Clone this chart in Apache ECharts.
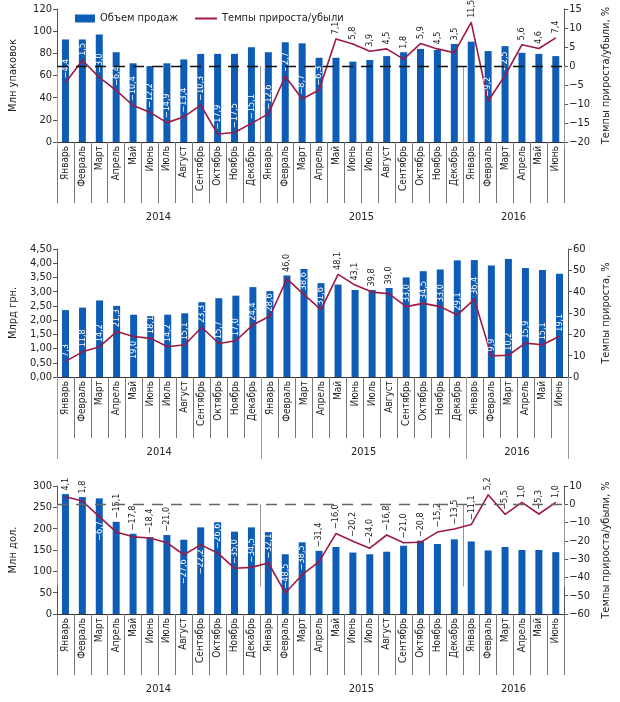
<!DOCTYPE html>
<html><head><meta charset="utf-8">
<script src="https://cdn.jsdelivr.net/npm/echarts@6/dist/echarts.min.js"></script>
<style>html,body{margin:0;padding:0;background:#fff}#c{width:620px;height:702px}</style>
</head><body><div id="c"></div>
<script>
const monthNames = ['Январь','Февраль','Март','Апрель','Май','Июнь','Июль','Август','Сентябрь','Октябрь','Ноябрь','Декабрь'];
const years = ['2014','2015','2016'];
const monthsPerYear = [12, 12, 6];
const categories = [].concat(monthNames, monthNames, monthNames.slice(0, 6));

const seriesNames = ['Объем продаж', 'Темпы прироста/убыли'];

const salesPacks = [92.5,92.5,97.0,81.0,71.0,68.5,71.0,74.5,79.5,79.5,79.5,85.5,81.0,90.0,89.0,76.0,76.0,72.5,74.0,77.5,81.0,84.0,83.0,88.5,90.5,82.0,86.5,80.5,79.5,77.5];
const growthPacks = [-4.4,1.5,-3.0,-6.4,-10.4,-12.2,-14.9,-13.4,-10.3,-17.9,-17.5,-15.1,-12.6,-2.7,-8.7,-6.3,7.1,5.8,3.9,4.5,1.8,5.9,4.5,3.5,11.5,-9.2,-2.5,5.6,4.6,7.4];

const salesUah = [2.35,2.44,2.69,2.50,2.19,2.14,2.19,2.24,2.63,2.77,2.86,3.16,3.02,3.57,3.80,3.30,3.25,3.06,3.06,3.13,3.50,3.72,3.78,4.10,4.11,3.92,4.15,3.83,3.76,3.63];
const growthUah = [7.3,11.8,14.2,21.3,19.0,18.1,14.2,15.1,23.3,15.7,17.0,24.4,28.6,46.0,38.6,31.6,48.1,43.1,39.8,39.0,33.0,34.5,33.0,29.1,36.4,9.9,10.2,15.9,15.1,19.1];

const salesUsd = [281,274,271,216,188,180,185,174,203,215,193,203,192,140,168,148,157,144,140,146,160,172,164,175,170,149,157,150,150,145];
const growthUsd = [4.1,1.8,-6.7,-15.1,-17.8,-18.4,-21.0,-27.6,-22.2,-26.6,-35.0,-34.5,-32.1,-48.5,-38.5,-31.4,-16.0,-20.2,-24.0,-16.8,-21.0,-20.8,-15.2,-13.5,-11.1,5.2,-5.5,1.0,-5.3,1.0];

const panels = [
  {bars: salesPacks, line: growthPacks, leftName: 'Млн упаковок', rightName: 'Темпы прироста/убыли, %', lineName: 'Темпы прироста/убыли',
   lmin: 0, lmax: 120, lint: 20, rmin: -20, rmax: 15, rint: 5, ldec: 0, zeroLine: '#111', top: 9, height: 133},
  {bars: salesUah, line: growthUah, leftName: 'Млрд грн.', rightName: 'Темпы прироста, %', lineName: 'Темпы прироста',
   lmin: 0, lmax: 4.5, lint: 0.5, rmin: 0, rmax: 60, rint: 10, ldec: 2, zeroLine: null, top: 249, height: 128},
  {bars: salesUsd, line: growthUsd, leftName: 'Млн дол.', rightName: 'Темпы прироста/убыли, %', lineName: 'Темпы прироста/убыли',
   lmin: 0, lmax: 300, lint: 50, rmin: -60, rmax: 10, rint: 10, ldec: 0, zeroLine: '#666', top: 486, height: 128}
];

const FONT = '"DejaVu Sans Condensed", "Liberation Sans Narrow", "DejaVu Sans", sans-serif';
const NARROW = '"Liberation Sans Narrow", "DejaVu Sans Condensed", sans-serif';
const BLUE = '#0d5cb6';
const RED = '#9e1a40';
const fmtNum = (v, d) => v.toFixed(d).replace('.', ',').replace('-', '−');

// half-month positions for the year axis
const halfCount = categories.length * 2 + 1;
const yearLabels = new Array(halfCount).fill('');
const yearBounds = [0];
let acc = 0;
monthsPerYear.forEach((m, i) => {
  yearLabels[(acc + m / 2) * 2] = years[i];
  acc += m;
  yearBounds.push(acc * 2);
});

const grids = [], xAxes = [], yAxes = [], series = [];
panels.forEach((p, k) => {
  grids.push({left: 52, width: 523, top: p.top, height: p.height});
  xAxes.push({
    type: 'category', gridIndex: k, data: categories, boundaryGap: true,
    axisLine: {lineStyle: {color: '#333', width: 1}},
    axisTick: {show: true, interval: 0, length: 61, lineStyle: {color: '#777'}},
    axisLabel: {interval: 0, rotate: 90, fontSize: 10, color: '#222', fontFamily: FONT, margin: 4}
  });
  xAxes.push({
    type: 'category', gridIndex: k, data: yearLabels, boundaryGap: false, position: 'bottom',
    axisLine: {show: false},
    axisTick: {show: true, length: 82, interval: (i) => yearBounds.indexOf(i) >= 0, lineStyle: {color: '#999'}},
    axisLabel: {interval: (i, v) => v !== '', margin: 70, fontSize: 11, color: '#222', fontFamily: FONT}
  });
  yAxes.push({
    type: 'value', gridIndex: k, position: 'left', min: p.lmin, max: p.lmax, interval: p.lint,
    name: p.leftName, nameLocation: 'middle', nameRotate: 90, nameGap: 38,
    nameTextStyle: {fontSize: 11, color: '#222', fontFamily: FONT},
    axisLine: {show: true, lineStyle: {color: '#555'}},
    axisTick: {show: true, length: 4, lineStyle: {color: '#555'}},
    splitLine: {show: false},
    axisLabel: {fontSize: 11, color: '#222', fontFamily: FONT, margin: 5, formatter: (v) => fmtNum(v, p.ldec)}
  });
  yAxes.push({
    type: 'value', gridIndex: k, position: 'right', min: p.rmin, max: p.rmax, interval: p.rint,
    name: p.rightName, nameLocation: 'middle', nameRotate: 90, nameGap: 33,
    nameTextStyle: {fontSize: 11, color: '#222', fontFamily: FONT},
    axisLine: {show: true, lineStyle: {color: '#555'}},
    axisTick: {show: true, length: 4, lineStyle: {color: '#555'}},
    splitLine: {show: false},
    axisLabel: {fontSize: 11, color: '#222', fontFamily: FONT, margin: 5, formatter: (v) => fmtNum(v, 0)}
  });
  series.push({
    name: seriesNames[0], type: 'bar', xAxisIndex: k * 2, yAxisIndex: k * 2, data: p.bars,
    barWidth: 7, itemStyle: {color: BLUE}, z: 2
  });
  const ls = {
    name: p.lineName, type: 'line', xAxisIndex: k * 2, yAxisIndex: k * 2 + 1,
    data: p.line.map(v => ({value: v})), symbol: 'circle', symbolSize: 1, showSymbol: true,
    lineStyle: {color: RED, width: 1.6}, itemStyle: {color: RED},
    z: 3,
    label: {show: true, position: 'top', distance: 4, rotate: 90, align: 'left', verticalAlign: 'middle',
      fontSize: 9, fontFamily: NARROW, color: '#222', formatter: (o) => fmtNum(o.value, 1)}
  };
  if (p.zeroLine) {
    ls.markLine = {silent: true, symbol: 'none', label: {show: false},
      lineStyle: {type: [11, 8], color: p.zeroLine, width: 1.3}, data: [{yAxis: 0}]};
  }
  series.push(ls);
});

const chart = echarts.init(document.getElementById('c'), null, {renderer: 'canvas'});
const option = {
  animation: false,
  backgroundColor: '#fff',
  textStyle: {fontFamily: FONT},
  legend: [
    {left: 70, top: 8, itemWidth: 20, itemHeight: 8, textStyle: {fontSize: 11, color: '#222', fontFamily: FONT},
     data: [{name: seriesNames[0], icon: 'rect'}]},
    {left: 190, top: 8, itemWidth: 22, itemHeight: 2, textStyle: {fontSize: 11, color: '#222', fontFamily: FONT},
     data: [{name: seriesNames[1], icon: 'rect'}]}
  ],
  grid: grids, xAxis: xAxes, yAxis: yAxes, series: series
};
chart.setOption(option);

// label placement: over the bar in white where it fits, otherwise dark above the bar top
panels.forEach((p, k) => {
  const s = series[k * 2 + 1];
  s.data = p.line.map((v, i) => {
    const yl = chart.convertToPixel({yAxisIndex: k * 2 + 1}, v);
    const yb = chart.convertToPixel({yAxisIndex: k * 2}, p.bars[i]);
    const len = fmtNum(v, 1).length * 4.3;
    const depth = yl - yb; // >0: point lies inside the bar
    if (depth < 12) {
      return {value: v, label: {color: '#222', distance: Math.max(4, depth + 3)}};
    }
    if (depth >= 4 + len + 1) {
      return {value: v, label: {color: '#fff'}};
    }
    return {value: v, label: {color: '#fff', position: 'bottom', align: 'right'}};
  });
});
chart.setOption({series: series});
</script></body></html>
